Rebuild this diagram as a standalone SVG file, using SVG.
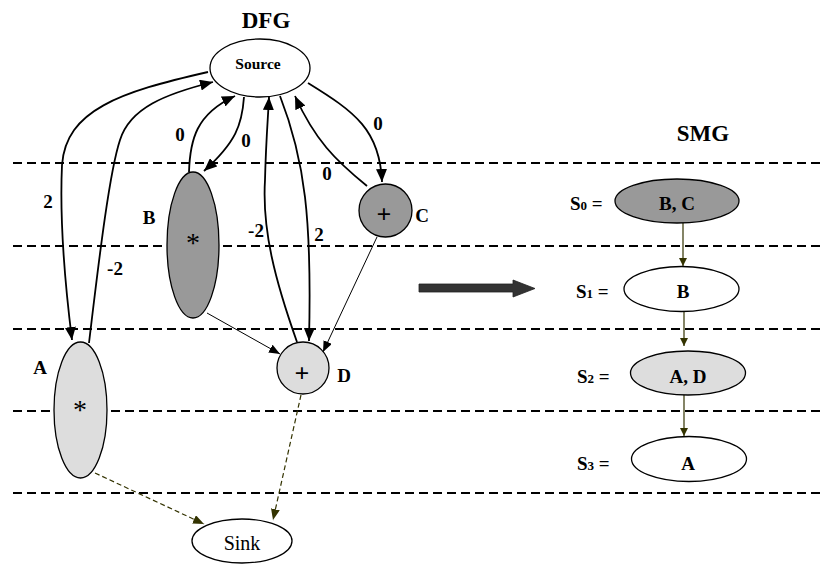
<svg xmlns="http://www.w3.org/2000/svg" width="822" height="564" viewBox="0 0 822 564" font-family="'Liberation Serif', 'DejaVu Serif', serif">
  <style>
    .sep { stroke: #000; stroke-width: 2; stroke-dasharray: 9 5; fill: none; }
    .node { stroke: #000; stroke-width: 1.3; }
    .white { fill: #fff; }
    .dark { fill: #999999; }
    .light { fill: #dddddd; }
    .edge { stroke: #000; stroke-width: 1.8; fill: none; }
    .thin { stroke: #000; stroke-width: 1; fill: none; }
    .sched { stroke: #333300; stroke-width: 1.2; fill: none; }
    .dash { stroke: #333300; stroke-width: 1.2; fill: none; stroke-dasharray: 5 3; }
    text { font-family: 'Liberation Serif', 'DejaVu Serif', serif; fill: #000; }
    .b { font-weight: bold; }
    .title { font-size: 23px; font-weight: bold; text-anchor: middle; }
    .lbl { font-size: 19px; font-weight: bold; text-anchor: middle; }
    .mul { font-size: 28px; text-anchor: middle; }
    .add { font-size: 26px; font-weight: bold; text-anchor: middle; }
    .st { font-size: 19px; font-weight: bold; }
  </style>
  <defs>
    <marker id="ah" markerUnits="userSpaceOnUse" markerWidth="13" markerHeight="11" refX="13" refY="5.5" orient="auto">
      <path d="M0,0 L13,5.5 L0,11 z" fill="#000"/>
    </marker>
    <marker id="ahThin" markerUnits="userSpaceOnUse" markerWidth="11" markerHeight="9" refX="11" refY="4.5" orient="auto">
      <path d="M0,0 L11,4.5 L0,9 z" fill="#000"/>
    </marker>
    <marker id="ahOlive" markerUnits="userSpaceOnUse" markerWidth="11" markerHeight="9" refX="11" refY="4.5" orient="auto">
      <path d="M0,0 L11,4.5 L0,9 z" fill="#333300"/>
    </marker>
    <marker id="ahSmall" markerUnits="userSpaceOnUse" markerWidth="8" markerHeight="8" refX="8" refY="4" orient="auto">
      <path d="M0,0 L8,4 L0,8 z" fill="#333300"/>
    </marker>
  </defs>

  <!-- control-step boundaries -->
  <g id="steps">
    <line class="sep" x1="13" y1="163" x2="822" y2="163"/>
    <line class="sep" x1="13" y1="246" x2="822" y2="246"/>
    <line class="sep" x1="13" y1="329" x2="822" y2="329"/>
    <line class="sep" x1="13" y1="411" x2="822" y2="411"/>
    <line class="sep" x1="13" y1="493" x2="822" y2="493"/>
  </g>

  <text class="title" x="266" y="28">DFG</text>
  <text class="title" x="703" y="141">SMG</text>

  <!-- DFG edges -->
  <g id="connectors">
    <path class="edge" d="M208,72 C120,92 66,110 62,165 C59,230 67,300 72,340" marker-end="url(#ah)"/>
    <path class="edge" d="M89,343 C100,250 110,170 120,140 C130,108 165,94 213,82" marker-end="url(#ah)"/>
    <path class="edge" d="M244,97 C242,125 236,142 204,171" marker-end="url(#ah)"/>
    <path class="edge" d="M189,172 C190,140 196,114 235,96" marker-end="url(#ah)"/>
    <path class="edge" d="M297,342 C275,280 262,230 265,180 C266,140 268,118 269,97" marker-end="url(#ah)"/>
    <path class="edge" d="M280,96 C305,160 312,220 309,341" marker-end="url(#ah)"/>
    <path class="edge" d="M308,83 C355,112 380,130 382,182" marker-end="url(#ah)"/>
    <path class="edge" d="M367,186 C335,160 315,140 295,96" marker-end="url(#ah)"/>
    <line class="thin" x1="207" y1="313" x2="280" y2="354" marker-end="url(#ahThin)"/>
    <line class="thin" x1="377" y1="237" x2="323" y2="352" marker-end="url(#ahThin)"/>
    <line class="dash" x1="95" y1="473" x2="204" y2="524" marker-end="url(#ahOlive)"/>
    <line class="dash" x1="301" y1="395" x2="273" y2="520" marker-end="url(#ahOlive)"/>

    <text class="lbl" x="48" y="208">2</text>
    <text class="lbl" x="115" y="275">-2</text>
    <text class="lbl" x="246" y="147">0</text>
    <text class="lbl" x="180" y="141">0</text>
    <text class="lbl" x="256" y="237">-2</text>
    <text class="lbl" x="319" y="241">2</text>
    <text class="lbl" x="378" y="130">0</text>
    <text class="lbl" x="327" y="180">0</text>

    <!-- schedule chain -->
    <line class="sched" x1="683" y1="223" x2="683" y2="266" marker-end="url(#ahSmall)"/>
    <line class="sched" x1="684" y1="311" x2="684" y2="346" marker-end="url(#ahSmall)"/>
    <line class="sched" x1="684" y1="395" x2="684" y2="436" marker-end="url(#ahSmall)"/>
  </g>

  <!-- DFG nodes -->
  <g id="source">
    <ellipse class="node white" cx="260" cy="68" rx="50" ry="29"/>
    <text class="b" x="258" y="69" font-size="15.5" text-anchor="middle">Source</text>
  </g>
  <g id="nodeB">
    <ellipse class="node dark" cx="193" cy="245" rx="26" ry="73"/>
    <text class="mul" x="193" y="252">*</text>
    <text class="lbl" x="149" y="224">B</text>
  </g>
  <g id="nodeC">
    <circle class="node dark" cx="385.5" cy="210.5" r="26.5"/>
    <text class="add" x="384" y="223">+</text>
    <text class="lbl" x="422" y="222">C</text>
  </g>
  <g id="nodeA">
    <ellipse class="node light" cx="80.5" cy="410" rx="26.5" ry="68"/>
    <text class="mul" x="80" y="419">*</text>
    <text class="lbl" x="40" y="374">A</text>
  </g>
  <g id="nodeD">
    <circle class="node light" cx="303" cy="368" r="26"/>
    <text class="add" x="302" y="382">+</text>
    <text class="lbl" x="344" y="382">D</text>
  </g>
  <g id="sink">
    <ellipse class="node white" cx="242" cy="541" rx="50" ry="22"/>
    <text x="242" y="550" font-size="20" text-anchor="middle">Sink</text>
  </g>

  <!-- transformation arrow -->
  <g id="transform">
    <path d="M419,284 L513,284 L513,280 L535,288.5 L513,297 L513,292 L419,292 z" fill="#333333" stroke="#222" stroke-width="0.8"/>
  </g>

  <!-- SMG states -->
  <g id="s0">
    <text class="st" x="570" y="210">S<tspan font-size="13">0</tspan> =</text>
    <ellipse class="node dark" cx="677" cy="201" rx="62" ry="22"/>
    <text class="lbl" x="677" y="210">B, C</text>
  </g>
  <g id="s1">
    <text class="st" x="576" y="298">S<tspan font-size="13">1</tspan> =</text>
    <ellipse class="node white" cx="681.5" cy="289" rx="57.5" ry="22.5"/>
    <text class="lbl" x="683" y="298">B</text>
  </g>
  <g id="s2">
    <text class="st" x="577" y="383">S<tspan font-size="13">2</tspan> =</text>
    <ellipse class="node light" cx="688" cy="373" rx="57.5" ry="22"/>
    <text class="lbl" x="688" y="383">A, D</text>
  </g>
  <g id="s3">
    <text class="st" x="577" y="470">S<tspan font-size="13">3</tspan> =</text>
    <ellipse class="node white" cx="689" cy="459" rx="57.5" ry="22.5"/>
    <text class="lbl" x="688" y="470">A</text>
  </g>
</svg>
